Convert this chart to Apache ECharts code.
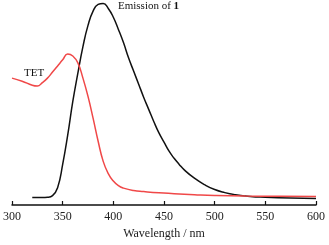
<!DOCTYPE html>
<html>
<head>
<meta charset="utf-8">
<script src="https://cdn.jsdelivr.net/npm/echarts@6/dist/echarts.min.js"></script>
<style>
  html, body { margin: 0; padding: 0; background: #fff; }
  #echarts { width: 329px; height: 245px; }
</style>
</head>
<body>
<div id="echarts"></div>
<script>
// 波长 (nm) 与强度 (相对值)
const emissionWavelength = [320, 330, 335, 340, 345, 350, 355, 360, 365, 370, 375, 380, 385, 390, 395, 400, 405, 410, 415, 420, 425, 430, 435, 440, 445, 450, 455, 460, 465, 470, 480, 490, 500, 510, 520, 535, 550, 575, 600]
const emissionValue = [3.7, 3.7, 3.8, 4.6, 8.5, 20, 34.5, 51, 65, 78, 88.5, 95.5, 98.8, 99.3, 96.8, 92.5, 86.5, 80, 72.5, 66, 59.5, 53, 47, 41, 35.5, 31, 26.5, 23, 20, 17.3, 13.2, 10, 7.6, 6.1, 5.1, 4.2, 3.8, 3.4, 3.2]

const tetWavelength = [300, 310, 320, 325, 330, 335, 340, 345, 350, 355, 360, 365, 370, 375, 380, 385, 390, 395, 400, 405, 410, 420, 430, 445, 460, 480, 500, 530, 565, 600]
const tetValue = [62.5, 61, 59, 58.6, 60.3, 62.5, 65.5, 68.5, 71.5, 74.4, 73.4, 70, 62.5, 53.5, 42.8, 31.4, 21.5, 15.5, 11.8, 9.5, 8.3, 7.1, 6.6, 6, 5.6, 5.1, 4.7, 4.4, 4.3, 4.2]

const xTicks = [300, 350, 400, 450, 500, 550, 600]

const zip = (xs, ys) => xs.map((x, i) => [x, ys[i]])

const chart = echarts.init(document.querySelector('#echarts'))

const font = 'Liberation Serif'

chart.setOption({
  animation: false,
  grid: { left: 11, right: 13, top: 2, bottom: 36 },
  xAxis: {
    type: 'value',
    min: xTicks[0],
    max: xTicks[xTicks.length - 1],
    interval: 50,
    name: 'Wavelength / nm',
    nameLocation: 'middle',
    nameGap: 23,
    nameTextStyle: { fontFamily: font, fontSize: 12, color: '#222' },
    axisLine: { lineStyle: { color: '#111', width: 1.5 } },
    axisTick: { inside: true, length: 4, lineStyle: { color: '#111', width: 1.2 } },
    axisLabel: { fontFamily: font, fontSize: 12, color: '#222', margin: 6 },
    splitLine: { show: false },
  },
  yAxis: {
    type: 'value',
    min: 0,
    max: 100,
    show: false,
  },
  series: [
    {
      type: 'line',
      data: zip(emissionWavelength, emissionValue),
      smooth: 0.5,
      showSymbol: false,
      lineStyle: { color: '#111', width: 1.5 },
    },
    {
      type: 'line',
      data: zip(tetWavelength, tetValue),
      smooth: 0.5,
      showSymbol: false,
      lineStyle: { color: '#f04848', width: 1.5 },
    },
  ],
  graphic: [
    {
      type: 'text',
      left: 118,
      top: 1,
      style: {
        text: 'Emission of {b|1}',
        fontFamily: font,
        fontSize: 11,
        fill: '#111',
        rich: { b: { fontFamily: font, fontSize: 11, fontWeight: 'bold', fill: '#111' } },
      },
    },
    {
      type: 'text',
      left: 24,
      top: 68,
      style: { text: 'TET', fontFamily: font, fontSize: 11, fill: '#111' },
    },
  ],
})
</script>
</body>
</html>
